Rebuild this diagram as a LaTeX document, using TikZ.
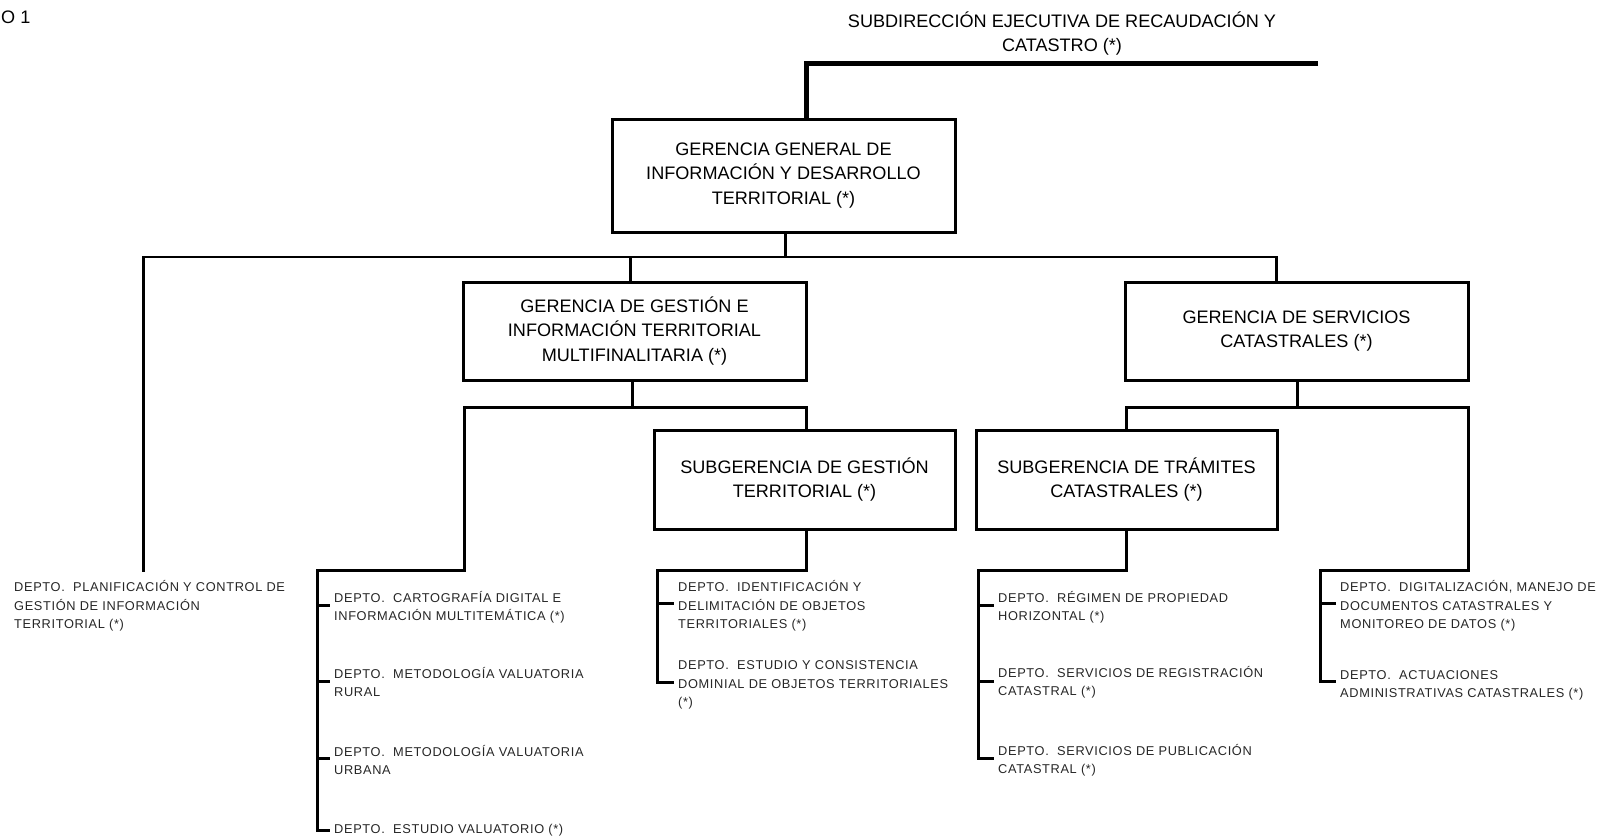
\documentclass[tikz,border=0pt]{standalone}
\usepackage{fontspec}
\setmainfont{Liberation Sans}
\newfontfamily\deptfont[LetterSpace=5]{Liberation Sans}
\begin{document}
\begin{tikzpicture}[x=1pt,y=-1pt,
  box/.style={draw,line width=3pt,inner sep=0pt,align=center,font=\fontsize{18.1}{24.4}\selectfont},
  bigbox/.style={box,minimum width=343pt,minimum height=98pt},
  subbox/.style={box,minimum width=301pt,minimum height=99pt},
  dept/.style={anchor=west,inner sep=0pt,align=left,font=\deptfont\fontsize{12.8}{18.3}\selectfont,text=black!85},
  ln/.style={line width=3pt,line cap=rect},
  bus/.style={line width=2.2pt,line cap=rect},
  tick/.style={line width=3pt,shorten >=4pt}]
\useasboundingbox (0,0) rectangle (1597,838);

% header texts
\node[anchor=west,inner sep=0pt,font=\fontsize{18.1}{24.4}\selectfont] (o1) at (1,17) {O 1};
\node[inner sep=0pt,align=center,font=\fontsize{18.1}{24.4}\selectfont] (sub) at (1062,33.5) {SUBDIRECCIÓN EJECUTIVA DE RECAUDACIÓN Y\\CATASTRO (*)};

% boxes
\node[box,minimum width=343pt,minimum height=113pt] (gg) at (783.5,175.5) {GERENCIA GENERAL DE\\INFORMACIÓN Y DESARROLLO\\TERRITORIAL (*)};
\node[bigbox] (g1) at (634.5,331) {GERENCIA DE GESTIÓN E\\INFORMACIÓN TERRITORIAL\\MULTIFINALITARIA (*)};
\node[bigbox] (g2) at (1296.5,331) {GERENCIA DE SERVICIOS\\CATASTRALES (*)};
\node[subbox] (s1) at (804.5,479.5) {SUBGERENCIA DE GESTIÓN\\TERRITORIAL (*)};
\node[subbox] (s2) at (1126.5,479.5) {SUBGERENCIA DE TRÁMITES\\CATASTRALES (*)};

% departments
\node[dept] (d0) at (14,606) {DEPTO.~~PLANIFICACIÓN Y CONTROL DE\\GESTIÓN DE INFORMACIÓN\\TERRITORIAL (*)};
\node[dept] (d1) at (334,607) {DEPTO.~~CARTOGRAFÍA DIGITAL E\\INFORMACIÓN MULTITEMÁTICA (*)};
\node[dept] (d2) at (334,682) {DEPTO.~~METODOLOGÍA VALUATORIA\\RURAL};
\node[dept] (d3) at (334,760) {DEPTO.~~METODOLOGÍA VALUATORIA\\URBANA};
\node[dept] (d4) at (334,830) {DEPTO.~~ESTUDIO VALUATORIO (*)};
\node[dept] (d5) at (678,606) {DEPTO.~~IDENTIFICACIÓN Y\\DELIMITACIÓN DE OBJETOS\\TERRITORIALES (*)};
\node[dept] (d6) at (678,685) {DEPTO.~~ESTUDIO Y CONSISTENCIA\\DOMINIAL DE OBJETOS TERRITORIALES\\(*)};
\node[dept] (d7) at (998,607) {DEPTO.~~RÉGIMEN DE PROPIEDAD\\HORIZONTAL (*)};
\node[dept] (d8) at (998,682) {DEPTO.~~SERVICIOS DE REGISTRACIÓN\\CATASTRAL (*)};
\node[dept] (d9) at (998,760) {DEPTO.~~SERVICIOS DE PUBLICACIÓN\\CATASTRAL (*)};
\node[dept] (d10) at (1340,606) {DEPTO.~~DIGITALIZACIÓN, MANEJO DE\\DOCUMENTOS CATASTRALES Y\\MONITOREO DE DATOS (*)};
\node[dept] (d11) at (1340,685) {DEPTO.~~ACTUACIONES\\ADMINISTRATIVAS CATASTRALES (*)};

% coordinates
\coordinate (subR) at (1318,63);
\coordinate (t1) at (806,63);
\coordinate (b0) at (785,257);
\coordinate (busL) at (143,257);
\coordinate (busR) at (1276,257);
\coordinate (b1) at (630,257);
\coordinate (e0) at (143,570);
\coordinate (c1) at (632,407);
\coordinate (c1L) at (464,407);
\coordinate (c1R) at (806,407);
\coordinate (c1LL) at (464,570);
\coordinate (k0) at (317,570);
\coordinate (k1) at (317,605);
\coordinate (k2) at (317,681);
\coordinate (k3) at (317,758);
\coordinate (k4) at (317,830);
\coordinate (m0) at (806,570);
\coordinate (m1) at (657,570);
\coordinate (m2) at (657,603);
\coordinate (m3) at (657,682);
\coordinate (c2) at (1297,407);
\coordinate (c2L) at (1126,407);
\coordinate (c2R) at (1468,407);
\coordinate (c2RR) at (1468,570);
\coordinate (r0) at (1320,570);
\coordinate (r1) at (1320,603);
\coordinate (r2) at (1320,681);
\coordinate (n0) at (1126,570);
\coordinate (n1) at (978,570);
\coordinate (n2) at (978,605);
\coordinate (n3) at (978,681);
\coordinate (n4) at (978,758);

% connectors
\draw[line width=5pt] (subR) -- (t1) -- (t1 |- gg.north);
\draw[line width=3pt] (b0 |- gg.south) -- (b0);
\draw[bus] (busL) -- (busR);
\draw[ln] (busL) -- (e0);
\draw[ln] (b1) -- (b1 |- g1.north);
\draw[ln] (busR) -- (busR |- g2.north);

\draw[ln] (c1 |- g1.south) -- (c1);
\draw[ln] (c1LL) -- (c1L) -- (c1R) -- (c1R |- s1.north);
\draw[ln] (c1LL) -- (k0) -- (k4);
\draw[tick] (k1) -- (k1 -| d1.west);
\draw[tick] (k2) -- (k2 -| d2.west);
\draw[tick] (k3) -- (k3 -| d3.west);
\draw[tick] (k4) -- (k4 -| d4.west);

\draw[ln] (s1.south -| m0) -- (m0) -- (m1) -- (m3);
\draw[tick] (m2) -- (m2 -| d5.west);
\draw[tick] (m3) -- (m3 -| d6.west);

\draw[ln] (c2 |- g2.south) -- (c2);
\draw[ln] (c2L |- s2.north) -- (c2L) -- (c2R) -- (c2RR) -- (r0) -- (r2);
\draw[tick] (r1) -- (r1 -| d10.west);
\draw[tick] (r2) -- (r2 -| d11.west);

\draw[ln] (s2.south -| n0) -- (n0) -- (n1) -- (n4);
\draw[tick] (n2) -- (n2 -| d7.west);
\draw[tick] (n3) -- (n3 -| d8.west);
\draw[tick] (n4) -- (n4 -| d9.west);
\end{tikzpicture}
\end{document}
